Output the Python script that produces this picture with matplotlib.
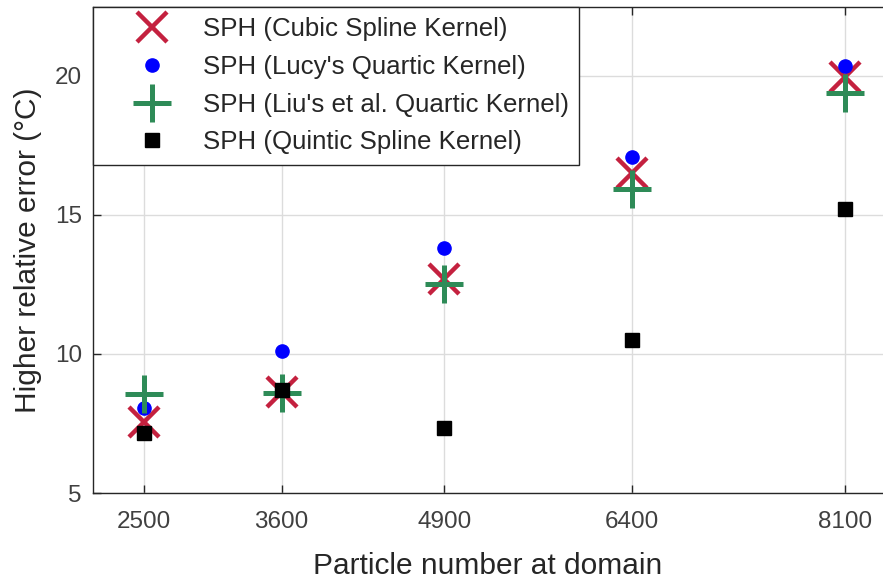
import matplotlib.pyplot as plt

# Fehler je Partikelanzahl fuer die vier Kernel
particles = [2500, 3600, 4900, 6400, 8100]
err_cubic = [7.55, 8.65, 12.7, 16.5, 19.95]
err_lucy = [8.05, 10.1, 13.8, 17.1, 20.35]
err_liu = [8.55, 8.6, 12.5, 15.95, 19.4]
err_quintic = [7.15, 8.7, 7.35, 10.5, 15.2]

plt.rcParams['font.family'] = ['Liberation Sans', 'DejaVu Sans']

fig = plt.figure(figsize=(8.83, 5.81), dpi=100, facecolor="white")
ax = fig.add_axes([93/883, 88/581, 790/883, 486/581])

ax.plot(particles, err_cubic, 'x', color='#C4213F', markersize=21, markeredgewidth=3.2,
        label="SPH (Cubic Spline Kernel)")
ax.plot(particles, err_lucy, 'o', color='#0000FF', markersize=9.5,
        label="SPH (Lucy's Quartic Kernel)")
ax.plot(particles, err_liu, '+', color='#2E8B57', markersize=27, markeredgewidth=3.6,
        label="SPH (Liu's et al. Quartic Kernel)")
ax.plot(particles, err_quintic, 's', color='k', markersize=10,
        label="SPH (Quintic Spline Kernel)")

ax.set_xlim(2093, 8404)
ax.set_ylim(5, 22.48)
ax.set_xticks(particles)
ax.set_yticks([5, 10, 15, 20])
ax.grid(True, color='#DCDCDC', linewidth=1.0)
ax.set_axisbelow(True)

ax.tick_params(direction='in', length=6, width=1, color='#262626', labelcolor='#404040',
               labelsize=17.5, top=True, right=False)
ax.tick_params(axis='x', pad=13)
ax.tick_params(axis='y', pad=8)
for side in ['left', 'bottom', 'top']:
    ax.spines[side].set_color('#262626')
    ax.spines[side].set_linewidth(1.0)
ax.spines['right'].set_visible(False)

ax.set_xlabel('Particle number at domain', fontsize=21.5, color='#262626', labelpad=14)
ax.set_ylabel('Higher relative error (\u00b0C)', fontsize=21.5, color='#262626', labelpad=9)

leg = ax.legend(loc='upper left', bbox_to_anchor=(0, 1), borderaxespad=0, fontsize=18.6,
                fancybox=False, framealpha=1, edgecolor='#262626', borderpad=0.4,
                handlelength=3.8, handletextpad=0.05, labelspacing=0.53)
leg.get_frame().set_linewidth(1.0)
for t in leg.get_texts():
    t.set_color('#262626')

fig.savefig('out.png', dpi=100)
